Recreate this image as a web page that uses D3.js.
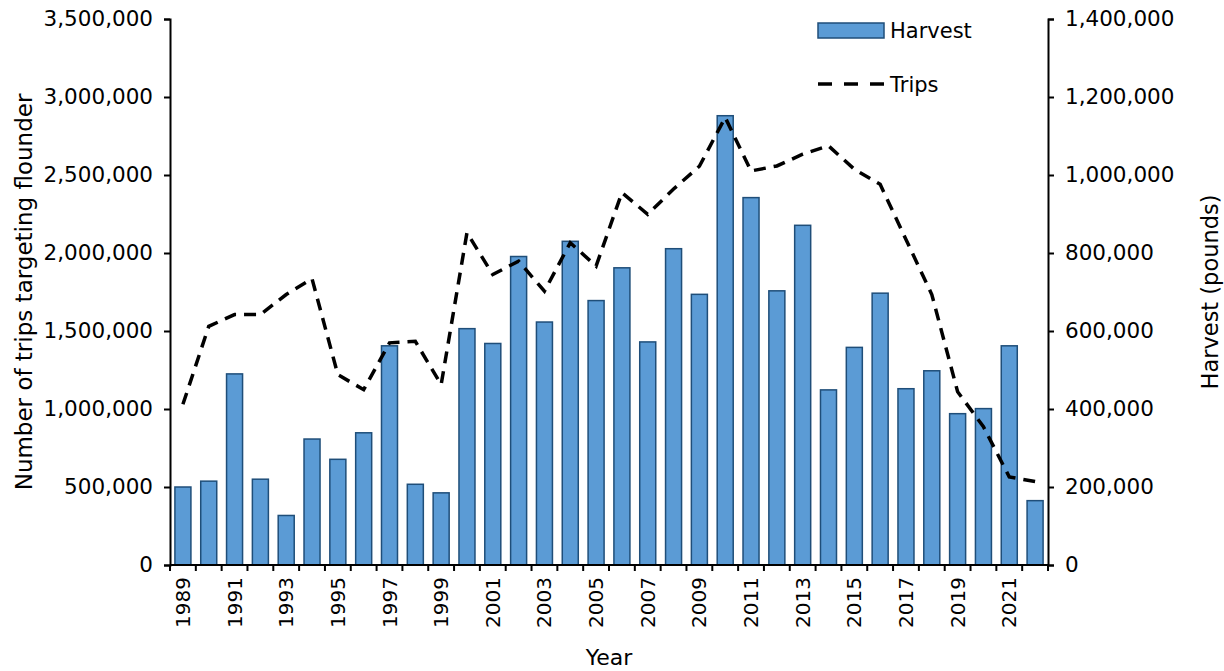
<!DOCTYPE html>
<html>
<head>
<meta charset="utf-8">
<script src="https://cdn.jsdelivr.net/npm/d3@7"></script>
<style>
  body { margin: 0; background: #fff; }
  text { font-family: "DejaVu Sans", Verdana, sans-serif; fill: #000; }
</style>
</head>
<body>
<div id="chart"></div>
<script>
// years on the x axis
const years = d3.range(1989, 2023);

// harvest in pounds (bars, right axis)
const harvest = [
  200000, 215000, 490000, 220000, 127000, 323000, 271000, 339000, 562000, 207000,
  185000, 606000, 568000, 791000, 623000, 830000, 678000, 762000, 572000, 811000,
  694000, 1152000, 942000, 703000, 871000, 449000, 558000, 697000, 452000, 498000,
  388000, 401000, 562000, 165000
];

// number of trips targeting flounder (dashed line, left axis)
const trips = [
  1030000, 1530000, 1605000, 1605000, 1734000, 1835000, 1220000, 1124000, 1424000, 1434000,
  1156000, 2130000, 1862000, 1948000, 1755000, 2066000, 1916000, 2387000, 2248000, 2410000,
  2556000, 2869000, 2526000, 2558000, 2633000, 2687000, 2537000, 2440000, 2087000, 1734000,
  1111000, 886000, 565000, 535000
];

const leftTicks = d3.range(0, 3500001, 500000);
const rightTicks = d3.range(0, 1400001, 200000);
const labelYears = years.filter(function(d) { return (d - 1989) % 2 === 0; });

const svgWidth = 1224;
const svgHeight = 671;
const margin = { top: 19, right: 176, bottom: 106, left: 170 };
const width = svgWidth - margin.left - margin.right;
const height = svgHeight - margin.top - margin.bottom;

const svg = d3.select("#chart")
  .append("svg")
    .attr("width", svgWidth)
    .attr("height", svgHeight);

const g = svg.append("g")
  .attr("transform", "translate(" + margin.left + "," + margin.top + ")");

const x = d3.scaleBand()
  .domain(years)
  .range([0, width])
  .paddingInner(0.38)
  .paddingOuter(0.19);

const yLeft = d3.scaleLinear().domain([0, 3500000]).range([height, 0]);
const yRight = d3.scaleLinear().domain([0, 1400000]).range([height, 0]);

const fmt = d3.format(",");

// bars
g.selectAll(".bar")
  .data(years)
  .enter()
  .append("rect")
    .attr("class", "bar")
    .attr("x", function(d) { return x(d); })
    .attr("y", function(d, i) { return yRight(harvest[i]); })
    .attr("width", x.bandwidth())
    .attr("height", function(d, i) { return height - yRight(harvest[i]); })
    .style("fill", "#5b9bd5")
    .style("stroke", "#1f4e79")
    .style("stroke-width", 1.5);

// trips line
const line = d3.line()
  .x(function(d, i) { return x(years[i]) + x.bandwidth() / 2; })
  .y(function(d) { return yLeft(d); });

g.append("path")
  .datum(trips)
  .attr("d", line)
  .style("fill", "none")
  .style("stroke", "#000")
  .style("stroke-width", 3.5)
  .style("stroke-dasharray", "12,8");

// left axis
const leftAxis = g.append("g")
  .call(d3.axisLeft(yLeft).tickValues(leftTicks).tickFormat(fmt).tickSize(6).tickPadding(11));

// right axis
const rightAxis = g.append("g")
  .attr("transform", "translate(" + width + ",0)")
  .call(d3.axisRight(yRight).tickValues(rightTicks).tickFormat(fmt).tickSize(6).tickPadding(11));

// bottom axis: ticks between categories
const bottom = g.append("g").attr("transform", "translate(0," + height + ")");
bottom.append("line")
  .attr("x1", 0).attr("x2", width)
  .style("stroke", "#000").style("stroke-width", 2);
bottom.selectAll(".xtick")
  .data(d3.range(years.length + 1))
  .enter()
  .append("line")
    .attr("x1", function(d) { return d * x.step(); })
    .attr("x2", function(d) { return d * x.step(); })
    .attr("y1", 0)
    .attr("y2", 6)
    .style("stroke", "#000").style("stroke-width", 2);
bottom.selectAll(".xlabel")
  .data(labelYears)
  .enter()
  .append("text")
    .attr("transform", function(d) {
      return "translate(" + (x(d) + x.bandwidth() / 2 + 7) + ",12) rotate(-90)";
    })
    .attr("text-anchor", "end")
    .style("font-size", "20px")
    .text(function(d) { return d; });

[leftAxis, rightAxis].forEach(function(a) {
  a.select(".domain").style("stroke", "#000").style("stroke-width", 2);
  a.selectAll(".tick line").style("stroke", "#000").style("stroke-width", 2);
  a.selectAll(".tick text").style("font-size", "21.5px").style("font-family", "DejaVu Sans");
});

// axis titles
svg.append("text")
  .attr("transform", "translate(32," + (margin.top + height / 2) + ") rotate(-90)")
  .attr("text-anchor", "middle")
  .style("font-size", "23px")
  .text("Number of trips targeting flounder");

svg.append("text")
  .attr("transform", "translate(1218," + (margin.top + height / 2) + ") rotate(-90)")
  .attr("text-anchor", "middle")
  .style("font-size", "22.5px")
  .text("Harvest (pounds)");

svg.append("text")
  .attr("x", margin.left + width / 2)
  .attr("y", 665)
  .attr("text-anchor", "middle")
  .style("font-size", "22px")
  .text("Year");

// legend
const legend = svg.append("g").attr("transform", "translate(818,0)");
legend.append("rect")
  .attr("x", 0).attr("y", 23).attr("width", 66).attr("height", 15)
  .style("fill", "#5b9bd5").style("stroke", "#1f4e79").style("stroke-width", 1.5);
legend.append("text")
  .attr("x", 72).attr("y", 38)
  .style("font-size", "21px")
  .text("Harvest");
legend.append("line")
  .attr("x1", 0).attr("x2", 66).attr("y1", 84).attr("y2", 84)
  .style("stroke", "#000").style("stroke-width", 3.5).style("stroke-dasharray", "14,12");
legend.append("text")
  .attr("x", 72).attr("y", 92)
  .style("font-size", "21px")
  .text("Trips");
</script>
</body>
</html>
